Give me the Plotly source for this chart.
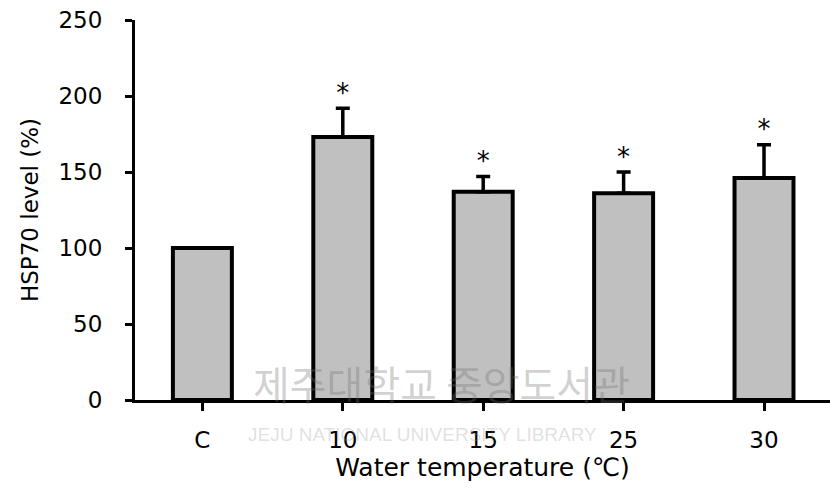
import plotly.graph_objects as go

# HSP70 level by water temperature
categories = ["C", "10", "15", "25", "30"]
hsp70_level = [100, 173, 137, 136, 146]
sem_upper = [0, 19, 10, 14, 22]
significance = ["", "*", "*", "*", "*"]

y_ticks = [0, 50, 100, 150, 200, 250]

FONT = "DejaVu Sans"

fig = go.Figure()

fig.add_trace(go.Bar(
    x=categories,
    y=hsp70_level,
    width=0.42,
    marker=dict(color="#c0c0c0", line=dict(color="black", width=4)),
    error_y=dict(
        type="data",
        symmetric=False,
        array=sem_upper,
        arrayminus=[0] * len(sem_upper),
        color="black",
        thickness=3.5,
        width=7,
    ),
    showlegend=False,
    hoverinfo="skip",
))

# significance markers above the error bars
fig.add_trace(go.Scatter(
    x=categories,
    y=[v + e for v, e in zip(hsp70_level, sem_upper)],
    mode="text",
    text=significance,
    textposition="top center",
    textfont=dict(family=FONT, size=26, color="black"),
    showlegend=False,
    hoverinfo="skip",
    cliponaxis=False,
))

# library watermark
fig.add_annotation(
    xref="paper", yref="paper", x=0.441, y=0.045,
    text="제주대학교 중앙도서관", showarrow=False,
    xanchor="center", yanchor="middle",
    font=dict(family="Noto Sans CJK KR", size=40, color="rgba(110,110,110,0.33)"),
)
fig.add_annotation(
    xref="paper", yref="paper", x=0.414, y=-0.092,
    text="JEJU NATIONAL UNIVERSITY LIBRARY", showarrow=False,
    xanchor="center", yanchor="middle",
    font=dict(family="Liberation Sans", size=19, color="rgba(150,150,150,0.3)"),
)

fig.update_layout(
    width=830, height=497,
    margin=dict(l=135, r=0, t=20, b=97),
    paper_bgcolor="white",
    plot_bgcolor="white",
    font=dict(family=FONT, color="black"),
)

fig.update_xaxes(
    type="category",
    range=[-0.48, 4.47],
    showline=True, linecolor="black", linewidth=3,
    ticks="outside", ticklen=8, tickwidth=3, tickcolor="black",
    tickfont=dict(family=FONT, size=23),
    ticklabelstandoff=9,
    showgrid=False, zeroline=False,
    title=dict(text="Water temperature (℃)", font=dict(family=FONT, size=25), standoff=6),
)

fig.update_yaxes(
    range=[0, 250],
    tickvals=y_ticks,
    showline=True, linecolor="black", linewidth=3,
    ticks="outside", ticklen=7, tickwidth=3, tickcolor="black",
    tickfont=dict(family=FONT, size=23),
    ticklabelstandoff=18,
    showgrid=False, zeroline=False,
    title=dict(text="HSP70 level (%)", font=dict(family=FONT, size=23), standoff=14),
)

fig.write_html("out.html")
